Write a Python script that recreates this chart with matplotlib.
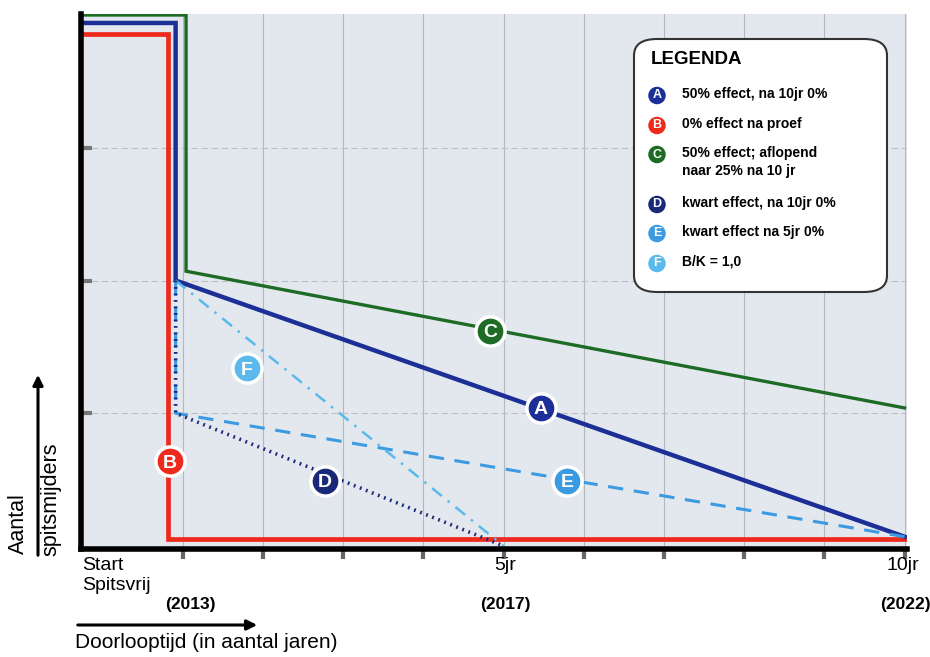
import matplotlib
matplotlib.use("Agg")
import matplotlib.pyplot as plt
from matplotlib.patches import FancyBboxPatch, FancyArrowPatch

plt.rcParams['font.family'] = ['Liberation Sans Narrow', 'Liberation Sans', 'DejaVu Sans']

# x in jaren (tick 1 = 2013, 5 = 5jr, 10 = 10jr), y in niveaus van het raster
x_start = -0.27
x_end = 10.0

# A: 50% effect, na 10jr 0%
a_x = [x_start, 0.91, 0.91, x_end]
a_y = [3.94, 3.94, 2.00, 0.07]
# B: 0% effect na proef
b_x = [x_start, 0.81, 0.81, x_end]
b_y = [3.86, 3.86, 0.05, 0.05]
# C: 50% effect; aflopend naar 25% na 10 jr
c_x = [x_start, 1.04, 1.04, x_end]
c_y = [4.0, 4.0, 2.07, 1.04]
# D: kwart effect, na 10jr 0%
d_x = [0.91, 0.91, 5.0]
d_y = [2.0, 1.0, 0.0]
# E: kwart effect na 5jr 0%
e_x = [0.91, 0.91, x_end]
e_y = [2.0, 1.0, 0.07]
# F: B/K = 1,0
f_x = [0.91, 5.0]
f_y = [2.0, 0.0]

labels = ["A", "B", "C", "D", "E", "F"]
label_x = [5.46, 0.84, 4.83, 2.77, 5.79, 1.80]
label_y = [1.04, 0.64, 1.62, 0.49, 0.49, 1.34]
legend_text = ["50% effect, na 10jr 0%", "0% effect na proef",
               "50% effect; aflopend\nnaar 25% na 10 jr",
               "kwart effect, na 10jr 0%", "kwart effect na 5jr 0%", "B/K = 1,0"]

navy = "#1b2f96"
red = "#ee2a1c"
green = "#1d6b24"
dnavy = "#1a2878"
lblue = "#3a9ae2"
fblue = "#5bb9ec"
colors = [navy, red, green, dnavy, lblue, fblue]

tick_x = list(range(1, 11))
plain = ['Liberation Sans', 'DejaVu Sans']

fig = plt.figure(figsize=(9.3, 6.57), dpi=100)
ax = fig.add_axes([81 / 930, 1 - 549 / 657, 826 / 930, 535 / 657])
ax.set_facecolor("#e3e8ee")
ax.set_xlim(x_start, 10.03)
ax.set_ylim(-3 / 133, 4 + 1 / 133)

for t in tick_x:
    ax.axvline(t, color="#b4b8bd", lw=0.8, zorder=1)
for lv in [1, 2, 3]:
    ax.axhline(lv, color="#bcc0c5", lw=0.8, ls=(0, (6, 3)), zorder=1)

ax.plot(c_x, c_y, color=green, lw=2.4, zorder=3, solid_joinstyle="miter")
ax.plot(a_x, a_y, color=navy, lw=3.2, zorder=4, solid_joinstyle="miter")
ax.plot(b_x, b_y, color=red, lw=3.4, zorder=3, solid_joinstyle="miter")
ax.plot(d_x, d_y, color=dnavy, lw=2.6, ls=(0, (0.5, 1.3)), zorder=5)
ax.plot(e_x, e_y, color=lblue, lw=2.2, ls=(0, (5, 3.5)), zorder=4)
ax.plot(f_x, f_y, color=fblue, lw=1.8, ls=(0, (5, 3, 1, 3)), zorder=4)

for lab, lx, ly, col in zip(labels, label_x, label_y, colors):
    ax.plot(lx, ly, "o", ms=21, mfc=col, mec="white", mew=2.5, zorder=6)
    ax.text(lx, ly, lab, color="white", ha="center", va="center_baseline",
            fontsize=14, fontweight="bold", zorder=7)

for s in ["top", "right"]:
    ax.spines[s].set_visible(False)
for s in ["left", "bottom"]:
    ax.spines[s].set_linewidth(4)
    ax.spines[s].set_color("black")
    ax.spines[s].set_zorder(8)

ax.set_yticks([1, 2, 3])
ax.set_yticklabels([])
ax.tick_params(axis="y", direction="in", length=8, width=3, color="#777777")
ax.set_xticks(tick_x)
ax.set_xticklabels([])
ax.tick_params(axis="x", direction="out", length=7, width=3, color="#666666")
for i, tl in enumerate(ax.xaxis.get_major_ticks()):
    if tick_x[i] in (1, 5, 10):
        tl.tick1line.set_color("black")

# tick labels
fig.text(82 / 930, 1 - 565 / 657, "Start", ha="left", va="center",
         fontsize=14, family=plain)
fig.text(82 / 930, 1 - 585 / 657, "Spitsvrij", ha="left", va="center",
         fontsize=14, family=plain)
fig.text(505 / 930, 1 - 566 / 657, "5jr", ha="center", va="center", fontsize=14,
         family=plain)
fig.text(903 / 930, 1 - 566 / 657, "10jr", ha="center", va="center", fontsize=14,
         family=plain)
for px, yr in [(190, "(2013)"), (505, "(2017)"), (905, "(2022)")]:
    fig.text(px / 930, 1 - 605 / 657, yr, ha="center", va="center",
             fontsize=12.5, fontweight="bold")

# as-labels met pijlen
fig.patches.append(FancyArrowPatch(
    (75 / 930, 1 - 625 / 657), (260 / 930, 1 - 625 / 657), transform=fig.transFigure,
    arrowstyle="-|>", mutation_scale=15, lw=2.2, color="black"))
fig.text(75 / 930, 1 - 643 / 657, "Doorlooptijd (in aantal jaren)", ha="left",
         va="center", fontsize=15, family=plain)
fig.patches.append(FancyArrowPatch(
    (38 / 930, 1 - 558 / 657), (38 / 930, 1 - 372 / 657), transform=fig.transFigure,
    arrowstyle="-|>", mutation_scale=15, lw=2.2, color="black"))
fig.text(18 / 930, 1 - 524 / 657, "Aantal", rotation=90, ha="center", va="center",
         fontsize=15.5, family=plain)
fig.text(51 / 930, 1 - 499 / 657, "spitsmijders", rotation=90, ha="center",
         va="center", fontsize=15.5, family=plain)

# legenda
box = FancyBboxPatch((634 / 930, 1 - 292 / 657), 253 / 930, 253 / 657,
                     boxstyle="round,pad=0,rounding_size=0.025",
                     transform=fig.transFigure, facecolor="white",
                     edgecolor="#333333", lw=1.5, zorder=10)
fig.patches.append(box)
fig.text(651 / 930, 1 - 60 / 657, "LEGENDA", ha="left", va="center",
         fontsize=13.5, fontweight="bold", zorder=11)
row_y = [94, 124, 162, 203, 232, 262]
for lab, txt, col, ry in zip(labels, legend_text, colors, row_y):
    cy = ry if "\n" not in txt else 153
    fig.text(657 / 930, 1 - cy / 657, lab, color="white", ha="center",
             va="center_baseline", fontsize=9, fontweight="bold", zorder=12,
             bbox=dict(boxstyle="circle,pad=0.22", fc=col, ec="none"))
    fig.text(682 / 930, 1 - ry / 657, txt, ha="left", va="center", fontsize=10,
             fontweight="bold", zorder=11, linespacing=1.35)

fig.savefig("out.png", dpi=100)
